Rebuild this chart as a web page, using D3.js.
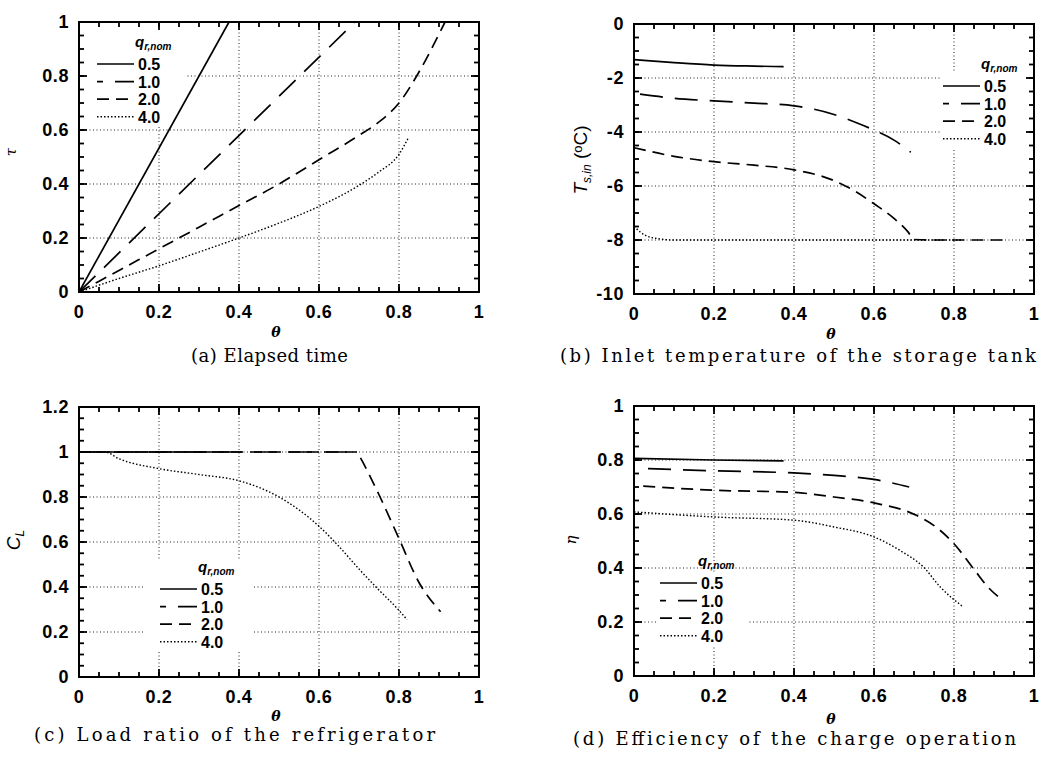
<!DOCTYPE html>
<html>
<head>
<meta charset="utf-8">
<script src="https://cdn.jsdelivr.net/npm/d3@7"></script>
<style>
  body { margin: 0; background: #fff; }
</style>
</head>
<body>
<svg width="1040" height="761"></svg>
<script>
// graduations
const thetaTicks = [0, 0.2, 0.4, 0.6, 0.8, 1];
const tauTicks = [0, 0.2, 0.4, 0.6, 0.8, 1];
const tempTicks = [-10, -8, -6, -4, -2, 0];
const loadTicks = [0, 0.2, 0.4, 0.6, 0.8, 1, 1.2];
const effTicks = [0, 0.2, 0.4, 0.6, 0.8, 1];
const qLabels = ['0.5', '1.0', '2.0', '4.0'];

// (a) temps ecoule, tau(theta)
const tau05 = [[0, 0], [0.375, 1]];
const tau10 = [[0, 0], [0.69, 1]];
const tau20 = [[0, 0], [0.1, 0.08], [0.2, 0.16], [0.3, 0.24], [0.4, 0.32], [0.5, 0.4], [0.6, 0.49],
  [0.7, 0.58], [0.75, 0.63], [0.8, 0.7], [0.85, 0.815], [0.9, 0.955], [0.915, 1]];
const tau40 = [[0, 0], [0.1, 0.05], [0.2, 0.097], [0.3, 0.148], [0.4, 0.2], [0.5, 0.255], [0.6, 0.317],
  [0.7, 0.395], [0.75, 0.445], [0.8, 0.51], [0.823, 0.57]];

// (b) temperature d'entree du reservoir
const temp05 = [[0, -1.32], [0.1, -1.43], [0.2, -1.52], [0.3, -1.56], [0.374, -1.58]];
const temp10 = [[0.015, -2.6], [0.1, -2.75], [0.2, -2.85], [0.3, -2.93], [0.4, -3.03], [0.5, -3.35],
  [0.55, -3.62], [0.6, -3.93], [0.65, -4.3], [0.692, -4.75]];
const temp20 = [[0, -4.58], [0.1, -4.9], [0.2, -5.1], [0.3, -5.23], [0.4, -5.4], [0.5, -5.8],
  [0.55, -6.17], [0.6, -6.66], [0.65, -7.2], [0.685, -7.7], [0.7, -7.98], [0.75, -8], [0.925, -8]];
const temp40 = [[0, -7.5], [0.03, -7.84], [0.065, -7.96], [0.1, -8], [0.82, -8]];

// (c) taux de charge du refrigerateur
const load05 = [[0, 1], [0.375, 1]];
const load10 = [[0, 1], [0.69, 1]];
const load20 = [[0, 1], [0.695, 1], [0.7, 0.985], [0.75, 0.81], [0.8, 0.615], [0.85, 0.42], [0.904, 0.29]];
const load40 = [[0, 1], [0.065, 1], [0.1, 0.97], [0.2, 0.926], [0.3, 0.9], [0.4, 0.872], [0.5, 0.8],
  [0.6, 0.67], [0.65, 0.58], [0.7, 0.48], [0.744, 0.397], [0.8, 0.296], [0.82, 0.255]];

// (d) rendement de la charge
const eff05 = [[0, 0.806], [0.2, 0.8], [0.374, 0.797]];
const eff10 = [[0.035, 0.768], [0.2, 0.76], [0.4, 0.752], [0.5, 0.743], [0.6, 0.728], [0.688, 0.7]];
const eff20 = [[0.023, 0.703], [0.2, 0.688], [0.4, 0.68], [0.5, 0.663], [0.6, 0.641], [0.706, 0.595],
  [0.76, 0.546], [0.8, 0.49], [0.852, 0.391], [0.885, 0.329], [0.923, 0.28]];
const eff40 = [[0, 0.608], [0.2, 0.589], [0.4, 0.577], [0.5, 0.552], [0.6, 0.515], [0.665, 0.465],
  [0.724, 0.403], [0.766, 0.329], [0.822, 0.257]];

// styles des courbes : plein, tiret long, tiret court, pointille
const dashes = [null, '23,12', '12,7', '1.5,2'];

const svg = d3.select('svg');
const tickFont = '"Liberation Sans", Arial, sans-serif';

function minorTicks(domain, step) {
  const out = [];
  for (let v = domain[0]; v <= domain[1] + 1e-9; v += step) out.push(+v.toFixed(4));
  return out;
}

function panel(o) {
  const w = 400, h = 270;
  const g = svg.append('g').attr('transform', `translate(${o.left},${o.top})`);
  const x = d3.scaleLinear().domain([0, 1]).range([0, w]);
  const y = d3.scaleLinear().domain(o.yDomain).range([h, 0]);

  const clipId = 'clip' + o.id;
  g.append('clipPath').attr('id', clipId).append('rect').attr('width', w).attr('height', h);

  // grille pointillee
  const grid = g.append('g').attr('stroke', '#222').attr('stroke-width', 1).attr('stroke-dasharray', '1,2.5');
  grid.selectAll('.vx').data(thetaTicks.slice(1, -1)).join('line')
    .attr('x1', d => x(d)).attr('x2', d => x(d)).attr('y1', 0).attr('y2', h);
  grid.selectAll('.hy').data(o.yTicks.slice(1, -1)).join('line')
    .attr('y1', d => y(d)).attr('y2', d => y(d)).attr('x1', 0).attr('x2', w);

  // fond blanc de la legende
  const lg = o.legend;
  g.append('rect').attr('x', lg.box[0]).attr('y', lg.box[1])
    .attr('width', lg.box[2]).attr('height', lg.box[3]).attr('fill', '#fff');

  // courbes
  const line = d3.line().x(d => x(d[0])).y(d => y(d[1])).curve(d3.curveMonotoneX);
  g.append('g').attr('clip-path', `url(#${clipId})`)
    .selectAll('path').data(o.series).join('path')
    .attr('d', d => line(d))
    .attr('fill', 'none')
    .attr('stroke', '#000')
    .attr('stroke-width', (d, i) => i === 3 ? 1.4 : 1.7)
    .attr('stroke-dasharray', (d, i) => dashes[i]);

  // legende
  const lt = g.append('text').attr('x', lg.x + 38).attr('y', lg.y)
    .attr('font-family', tickFont).attr('font-weight', 'bold').attr('font-style', 'italic')
    .attr('font-size', 15);
  lt.append('tspan').text('q');
  lt.append('tspan').attr('font-size', 10).attr('dy', 3).text('r,nom');
  qLabels.forEach((lab, i) => {
    const yy = lg.y + 17 + i * 17.6;
    g.append('line').attr('x1', lg.x).attr('x2', lg.x + 37).attr('y1', yy).attr('y2', yy)
      .attr('stroke', '#000').attr('stroke-width', i === 3 ? 1.4 : 1.7)
      .attr('stroke-dasharray', dashes[i]).attr('stroke-dashoffset', i === 1 ? 17 : 0);
    g.append('text').attr('x', lg.x + 41).attr('y', yy + 6)
      .attr('font-family', tickFont).attr('font-weight', 'bold').attr('font-size', 16)
      .text(lab);
  });

  // graduations vers l'interieur sur les quatre cotes
  const xMinor = minorTicks([0, 1], 0.05);
  const yMinor = minorTicks(o.yDomain, o.yMinor);
  const xt = [...thetaTicks.map(v => [v, 8]), ...xMinor.map(v => [v, 5])];
  const ytk = [...o.yTicks.map(v => [v, 8]), ...yMinor.map(v => [v, 5])];
  const tk = g.append('g').attr('fill', '#000');
  tk.selectAll('.tb').data(xt).join('rect')
    .attr('x', d => x(d[0]) - 0.9).attr('y', d => h - d[1]).attr('width', 1.8).attr('height', d => d[1]);
  tk.selectAll('.tt').data(xt).join('rect')
    .attr('x', d => x(d[0]) - 0.9).attr('y', 0).attr('width', 1.8).attr('height', d => d[1]);
  tk.selectAll('.tl').data(ytk).join('rect')
    .attr('y', d => y(d[0]) - 0.9).attr('x', 0).attr('height', 1.8).attr('width', d => d[1]);
  tk.selectAll('.tr').data(ytk).join('rect')
    .attr('y', d => y(d[0]) - 0.9).attr('x', d => w - d[1]).attr('height', 1.8).attr('width', d => d[1]);

  // etiquettes des graduations
  const lab = g.append('g').attr('font-family', tickFont).attr('font-weight', 'bold')
    .attr('font-size', 18).attr('letter-spacing', 0.6);
  lab.selectAll('.xl').data(thetaTicks).join('text')
    .attr('x', d => x(d)).attr('y', h + 26).attr('text-anchor', 'middle').text(d => String(d));
  lab.selectAll('.yl').data(o.yTicks).join('text')
    .attr('x', -10).attr('y', d => y(d) + 6).attr('text-anchor', 'end').text(d => String(d));

  // cadre
  g.append('rect').attr('width', w).attr('height', h)
    .attr('fill', 'none').attr('stroke', '#000').attr('stroke-width', 2);

  // titre de l'axe x
  g.append('text').attr('x', x(0.5) - 3).attr('y', h + o.thetaDy)
    .attr('text-anchor', 'middle').attr('font-family', '"DejaVu Serif", serif')
    .attr('font-style', 'italic').attr('font-weight', 'bold').attr('font-size', 14)
    .text('θ');

  // titre de l'axe y
  const yt = g.append('text')
    .attr('transform', `translate(${o.yLab[0]},${o.yLab[1]}) rotate(-90)`)
    .attr('text-anchor', 'middle');
  o.yTitle(yt);

  // legende de la figure
  svg.append('text').attr('x', o.cap[0]).attr('y', o.cap[1])
    .attr('text-anchor', 'start')
    .attr('font-family', '"DejaVu Serif", "Liberation Serif", serif')
    .attr('font-size', 18)
    .attr('textLength', o.cap[2]).attr('lengthAdjust', 'spacing')
    .text(o.caption);
}

panel({
  id: 'a', left: 79, top: 22, yDomain: [0, 1], yTicks: tauTicks, yMinor: 0.05,
  series: [tau05, tau10, tau20, tau40],
  legend: { x: 18, y: 25, box: [2, 2, 106, 101] },
  thetaDy: 45, yLab: [-63, 130],
  yTitle: t => t.attr('font-family', '"DejaVu Serif", serif').attr('font-style', 'italic')
    .attr('font-size', 15).text('τ'),
  cap: [191, 362, 157], caption: '(a) Elapsed time'
});

panel({
  id: 'b', left: 634, top: 24, yDomain: [-10, 0], yTicks: tempTicks, yMinor: 0.5,
  series: [temp05, temp10, temp20, temp40],
  legend: { x: 309, y: 45, box: [306, 48, 86, 78] },
  thetaDy: 45, yLab: [-47, 136],
  yTitle: t => {
    t.attr('font-family', tickFont).attr('font-size', 19);
    t.append('tspan').attr('font-style', 'italic').text('T');
    t.append('tspan').attr('font-style', 'italic').attr('font-size', 12).attr('dy', 4).text('s,in');
    t.append('tspan').attr('dy', -4).text(' (');
    t.append('tspan').attr('font-size', 13).attr('dy', -5).text('o');
    t.append('tspan').attr('dy', 5).text('C)');
  },
  cap: [560, 362, 476], caption: '(b) Inlet temperature of the storage tank'
});

panel({
  id: 'c', left: 79, top: 407, yDomain: [0, 1.2], yTicks: loadTicks, yMinor: 0.05,
  series: [load05, load10, load20, load40],
  legend: { x: 81, y: 165, box: [66, 153, 108, 92] },
  thetaDy: 44, yLab: [-59, 133],
  yTitle: t => {
    t.attr('font-family', tickFont).attr('font-size', 19).attr('font-style', 'italic');
    t.append('tspan').text('C');
    t.append('tspan').attr('font-size', 12).attr('dy', 4).text('L');
  },
  cap: [34, 741, 401], caption: '(c) Load ratio of the refrigerator'
});

panel({
  id: 'd', left: 634, top: 406, yDomain: [0, 1], yTicks: effTicks, yMinor: 0.05,
  series: [eff05, eff10, eff20, eff40],
  legend: { x: 26, y: 160, box: [24, 167, 89, 73] },
  thetaDy: 48, yLab: [-58, 134],
  yTitle: t => t.attr('font-family', '"DejaVu Serif", serif').attr('font-style', 'italic')
    .attr('font-size', 15).text('η'),
  cap: [573, 745, 443], caption: '(d) Efficiency of the charge operation'
});
</script>
</body>
</html>
